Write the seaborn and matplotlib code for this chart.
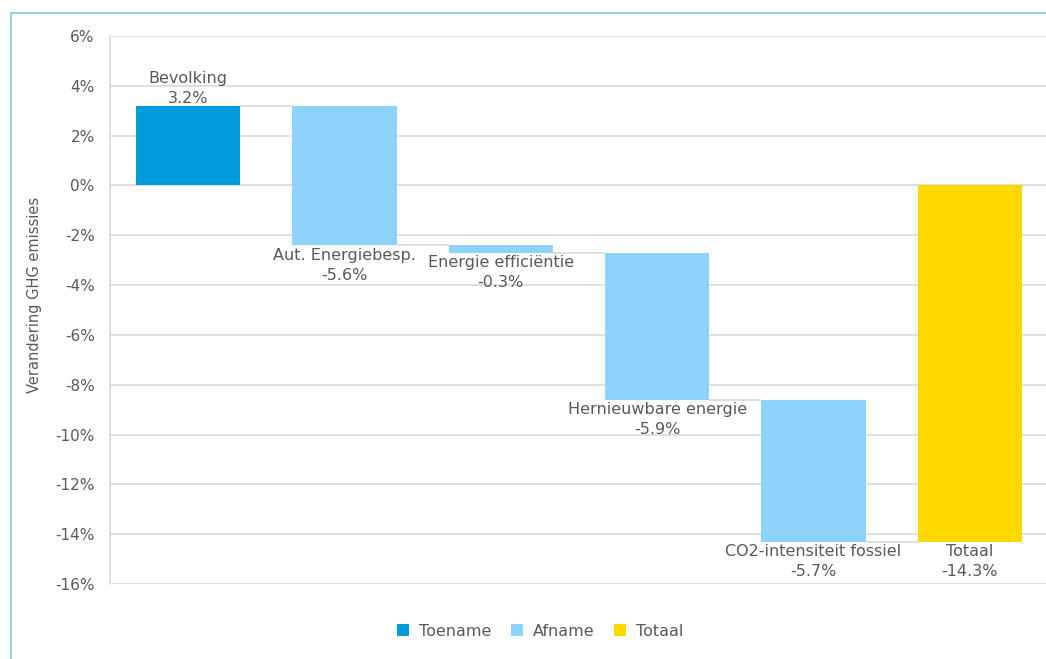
import matplotlib
matplotlib.use("Agg")
import matplotlib.pyplot as plt
from matplotlib.patches import Patch, Rectangle
import numpy as np
import pandas as pd
import seaborn as sns

# data
categories = ["Bevolking", "Aut. Energiebesp.", "Energie efficiëntie",
              "Hernieuwbare energie", "CO2-intensiteit fossiel", "Totaal"]
changes = [3.2, -5.6, -0.3, -5.9, -5.7, -14.3]
kinds = ["Toename", "Afname", "Afname", "Afname", "Afname", "Totaal"]
y_ticks = [-16, -14, -12, -10, -8, -6, -4, -2, 0, 2, 4, 6]

kind_colors = {"Toename": "#009CD9", "Afname": "#8DD3FE", "Totaal": "#FFD800"}
grey_txt = "#595959"
grid_col = "#D9D9D9"

# waterfall starts / ends
starts = []
level = 0.0
for c, k in zip(changes, kinds):
    if k == "Totaal":
        starts.append(0.0)
    else:
        starts.append(level)
        level += c
starts = np.array(starts)
ends = starts + np.array(changes)

df = pd.DataFrame({"categorie": categories, "start": starts,
                   "verandering": changes, "soort": kinds})

sns.set_theme(style="white")
plt.rcParams["font.family"] = ["DejaVu Sans"]

fig = plt.figure(figsize=(10.46, 6.59), dpi=100)
ax = fig.add_axes([110 / 1046, 75 / 659, 938 / 1046, 548 / 659])

bar_w = 0.667
sns.barplot(data=df, x="categorie", y="verandering", order=categories,
            bottom=df["start"].values, width=bar_w, color=kind_colors["Afname"],
            linewidth=0, ax=ax, zorder=3)
for patch, k in zip(ax.patches, kinds):
    patch.set_facecolor(kind_colors[k])
    patch.set_edgecolor(kind_colors[k])

# connector lines
for i in range(len(categories) - 1):
    ax.hlines(ends[i], i + bar_w / 2, i + 1 - bar_w / 2, color=grid_col, lw=1.2, zorder=2)

# labels
for i, (name, c, s, e) in enumerate(zip(categories, changes, starts, ends)):
    txt = f"{name}\n{c:.1f}%"
    if c >= 0:
        ax.annotate(txt, (i, e), xytext=(0, 0), textcoords="offset points",
                    ha="center", va="bottom", fontsize=11.5, color=grey_txt,
                    linespacing=1.4, zorder=4)
    else:
        ax.annotate(txt, (i, min(s, e)), xytext=(0, -2), textcoords="offset points",
                    ha="center", va="top", fontsize=11.5, color=grey_txt,
                    linespacing=1.4, zorder=4)

ax.set_ylim(-16, 6)
ax.set_xlim(-0.5, 5.5)
ax.set_yticks(y_ticks)
ax.set_yticklabels([f"{t}%" for t in y_ticks])
ax.set_xticks([])
ax.set_xlabel("")
ax.set_ylabel("Verandering GHG emissies", fontsize=10.5, color=grey_txt)
ax.yaxis.set_label_coords(-0.0725, 0.527)
ax.tick_params(axis="y", length=0, pad=11, labelsize=11, labelcolor=grey_txt)
ax.yaxis.grid(True, color=grid_col, lw=1.2, zorder=0)
ax.set_axisbelow(True)
for side in ["top", "right", "bottom"]:
    ax.spines[side].set_visible(False)
ax.spines["left"].set_color(grid_col)
ax.spines["left"].set_linewidth(1.2)

# legend
handles = [Patch(facecolor=kind_colors[k], edgecolor="none", label=k)
           for k in ["Toename", "Afname", "Totaal"]]
fig.legend(handles=handles, loc="center", bbox_to_anchor=(540 / 1046, 1 - 631 / 659),
           ncol=3, frameon=False, fontsize=11.5, handlelength=0.8, handleheight=0.8,
           handletextpad=0.6, columnspacing=1.2, labelcolor=grey_txt)

# outer frame
fig.patches.append(Rectangle((11 / 1046, -0.1), 1.2, (659 - 13) / 659 + 0.1,
                             transform=fig.transFigure, fill=False,
                             edgecolor="#7CCFE4", lw=1.2))

fig.savefig("out.png", dpi=100)
